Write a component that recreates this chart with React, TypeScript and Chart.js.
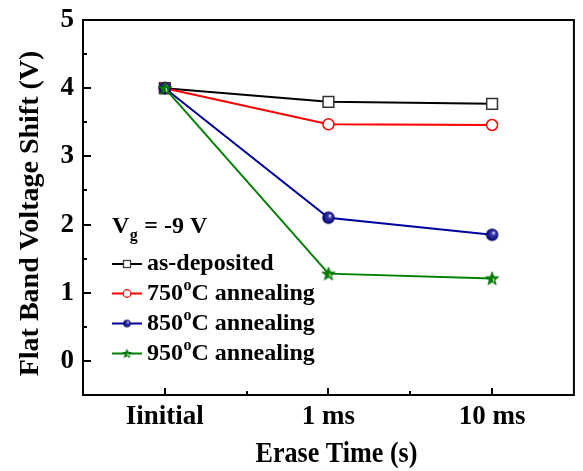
import React, { useEffect, useRef } from "react";
import { Chart, registerables } from "chart.js";

Chart.register(...registerables);

const categories = ["Iinitial", "1 ms", "10 ms"];
const asDeposited = [4.0, 3.8, 3.77];
const anneal750 = [4.0, 3.47, 3.46];
const anneal850 = [4.0, 2.1, 1.85];
const anneal950 = [4.0, 1.28, 1.21];
const yTickLabels = ["0", "1", "2", "3", "4", "5"];
const xTitle = "Erase Time (s)";
const yTitle = "Flat Band Voltage Shift (V)";

const FONT = "'Liberation Serif', 'Times New Roman', serif";

function makeSphere(r: number) {
  const c = document.createElement("canvas");
  const s = Math.ceil(r * 2 + 2);
  c.width = s;
  c.height = s;
  const ctx = c.getContext("2d")!;
  const cx = s / 2, cy = s / 2;
  const g = ctx.createRadialGradient(cx + r * 0.3, cy - r * 0.35, r * 0.05, cx, cy, r);
  g.addColorStop(0, "#e8e8ff");
  g.addColorStop(0.3, "#3a3aa8");
  g.addColorStop(1, "#00006e");
  ctx.fillStyle = g;
  ctx.beginPath();
  ctx.arc(cx, cy, r, 0, Math.PI * 2);
  ctx.fill();
  return c;
}

function makeStar(r: number) {
  const c = document.createElement("canvas");
  const s = Math.ceil(r * 2 + 2);
  c.width = s;
  c.height = s;
  const ctx = c.getContext("2d")!;
  const cx = s / 2, cy = s / 2 + r * 0.08;
  ctx.beginPath();
  for (let i = 0; i < 10; i++) {
    const rr = i % 2 === 0 ? r : r * 0.42;
    const a = -Math.PI / 2 + (i * Math.PI) / 5;
    const x = cx + rr * Math.cos(a);
    const y = cy + rr * Math.sin(a);
    if (i === 0) ctx.moveTo(x, y);
    else ctx.lineTo(x, y);
  }
  ctx.closePath();
  ctx.fillStyle = "#008000";
  ctx.fill();
  ctx.strokeStyle = "#006400";
  ctx.lineWidth = 0.8;
  ctx.stroke();
  ctx.strokeStyle = "#ffffff";
  ctx.lineWidth = 1;
  ctx.beginPath();
  ctx.moveTo(cx + r * 0.15, cy - r * 0.1);
  ctx.lineTo(cx + r * 0.3, cy + r * 0.45);
  ctx.stroke();
  return c;
}

export default function App() {
  const ref = useRef<HTMLCanvasElement | null>(null);

  useEffect(() => {
    if (!ref.current) return;
    const sphereBig = makeSphere(6.2);
    const sphereSmall = makeSphere(3.8);
    const starBig = makeStar(7);
    const starSmall = makeStar(4.5);

    const framePlugin = {
      id: "frame",
      afterDatasetsDraw(chart: any) {
        const { ctx, chartArea } = chart;
        const { left, right, top, bottom } = chartArea;
        const ys = chart.scales.y;
        const xs = chart.scales.x;
        ctx.save();
        ctx.strokeStyle = "#000";
        ctx.lineWidth = 2;
        ctx.strokeRect(left, top, right - left, bottom - top);
        for (let v = -0.5; v <= 5.001; v += 0.5) {
          const p = Math.round(ys.getPixelForValue(v));
          const major = Math.abs(v - Math.round(v)) < 1e-6;
          ctx.beginPath();
          ctx.moveTo(left, p);
          ctx.lineTo(left + (major ? 8 : 4), p);
          ctx.stroke();
        }
        for (let i = 0; i < categories.length; i++) {
          const p = Math.round(xs.getPixelForValue(i));
          ctx.beginPath();
          ctx.moveTo(p, bottom);
          ctx.lineTo(p, bottom - 7);
          ctx.stroke();
          if (i < categories.length - 1) {
            const m = Math.round((xs.getPixelForValue(i) + xs.getPixelForValue(i + 1)) / 2);
            ctx.beginPath();
            ctx.moveTo(m, bottom);
            ctx.lineTo(m, bottom - 4);
            ctx.stroke();
          }
        }
        ctx.restore();

        // Axis titles
        ctx.save();
        ctx.fillStyle = "#000";
        ctx.textAlign = "center";
        ctx.textBaseline = "alphabetic";
        ctx.font = `bold 29px ${FONT}`;
        ctx.translate(336.5, 462);
        ctx.scale(0.9, 1);
        ctx.fillText(xTitle, 0, 0);
        ctx.restore();

        ctx.save();
        ctx.fillStyle = "#000";
        ctx.textAlign = "center";
        ctx.textBaseline = "alphabetic";
        ctx.font = `bold 28px ${FONT}`;
        ctx.translate(38, 213.5);
        ctx.rotate(-Math.PI / 2);
        ctx.fillText(yTitle, 0, 0);
        ctx.restore();

        // Legend
        ctx.save();
        ctx.fillStyle = "#000";
        ctx.textBaseline = "alphabetic";
        ctx.textAlign = "left";
        const big = `bold 24px ${FONT}`;
        const small = `bold 16px ${FONT}`;
        let x = 112;
        ctx.font = big;
        ctx.fillText("V", x, 233);
        x += ctx.measureText("V").width;
        ctx.font = small;
        ctx.fillText("g", x + 0.5, 240);
        x += ctx.measureText("g").width + 1;
        ctx.font = big;
        ctx.fillText(" = -9 V", x, 233);

        const entries = [
          { pre: "as-deposited", sup: "", post: "", color: "#000", kind: "square" },
          { pre: "750", sup: "o", post: "C annealing", color: "#ff0000", kind: "circle" },
          { pre: "850", sup: "o", post: "C annealing", color: "#0000a0", kind: "sphere" },
          { pre: "950", sup: "o", post: "C annealing", color: "#008000", kind: "star" },
        ];
        const centers = [264, 293.5, 323.5, 353.5];
        entries.forEach((e, i) => {
          const cy = centers[i];
          ctx.strokeStyle = e.color;
          ctx.lineWidth = 2;
          ctx.beginPath();
          ctx.moveTo(112, cy);
          ctx.lineTo(142, cy);
          ctx.stroke();
          const mx = 127;
          if (e.kind === "square") {
            ctx.fillStyle = "#fff";
            ctx.fillRect(mx - 3.5, cy - 3.5, 7, 7);
            ctx.strokeStyle = "#333";
            ctx.lineWidth = 1.2;
            ctx.strokeRect(mx - 3.5, cy - 3.5, 7, 7);
          } else if (e.kind === "circle") {
            ctx.fillStyle = "#fff";
            ctx.beginPath();
            ctx.arc(mx, cy, 3.8, 0, Math.PI * 2);
            ctx.fill();
            ctx.strokeStyle = "#ff0000";
            ctx.lineWidth = 1.2;
            ctx.stroke();
          } else if (e.kind === "sphere") {
            ctx.drawImage(sphereSmall, mx - sphereSmall.width / 2, cy - sphereSmall.height / 2);
          } else {
            ctx.drawImage(starSmall, mx - starSmall.width / 2, cy - starSmall.height / 2);
          }
          ctx.fillStyle = "#000";
          let tx = 147;
          const base = cy + 6;
          ctx.font = big;
          ctx.fillText(e.pre, tx, base);
          tx += ctx.measureText(e.pre).width;
          if (e.sup) {
            ctx.font = small;
            ctx.fillText(e.sup, tx + 0.5, base - 10);
            tx += ctx.measureText(e.sup).width + 0.5;
            ctx.font = big;
            ctx.fillText(e.post, tx, base);
          }
        });
        ctx.restore();
      },
    };

    const chart = new Chart(ref.current, {
      type: "line",
      data: {
        labels: categories,
        datasets: [
          {
            label: "as-deposited",
            data: asDeposited,
            borderColor: "#000000",
            borderWidth: 2,
            pointStyle: "rect",
            pointRadius: 7.6,
            pointBackgroundColor: "#ffffff",
            pointBorderColor: "#333333",
            pointBorderWidth: 1.5,
            order: 4,
          },
          {
            label: "750°C annealing",
            data: anneal750,
            borderColor: "#ff0000",
            borderWidth: 2,
            pointStyle: "circle",
            pointRadius: 5.5,
            pointBackgroundColor: "#ffffff",
            pointBorderColor: "#ff0000",
            pointBorderWidth: 1.5,
            order: 3,
          },
          {
            label: "850°C annealing",
            data: anneal850,
            borderColor: "#0000a0",
            borderWidth: 2,
            pointStyle: sphereBig as any,
            pointRadius: 6,
            order: 2,
          },
          {
            label: "950°C annealing",
            data: anneal950,
            borderColor: "#008000",
            borderWidth: 2,
            pointStyle: starBig as any,
            pointRadius: 7,
            order: 1,
          },
        ],
      },
      options: {
        animation: false,
        responsive: false,
        maintainAspectRatio: false,
        layout: { padding: { left: 0, top: 20, right: 3, bottom: 0 } },
        plugins: {
          legend: { display: false },
          tooltip: { enabled: false },
        },
        scales: {
          x: {
            type: "category",
            offset: true,
            grid: { display: false, drawTicks: false },
            border: { display: false },
            ticks: {
              color: "#000",
              padding: 6,
              font: { family: FONT, size: 27, weight: "bold" },
              maxRotation: 0,
            },
            title: { display: false },
            afterFit: (s: any) => {
              s.height = 76;
              s.paddingLeft = 0;
              s.paddingRight = 0;
              s.paddingTop = 0;
              s.paddingBottom = 0;
            },
          },
          y: {
            type: "linear",
            min: -0.5,
            max: 5,
            grid: { display: false, drawTicks: false },
            border: { display: false },
            ticks: {
              stepSize: 0.5,
              autoSkip: false,
              color: "#000",
              padding: 9,
              font: { family: FONT, size: 27, weight: "bold" },
              callback: (v: any) => {
                const n = Number(v);
                if (Math.abs(n - Math.round(n)) < 1e-6 && n >= 0) {
                  return yTickLabels[Math.round(n)] ?? "";
                }
                return "";
              },
            },
            title: { display: false },
            afterFit: (s: any) => {
              s.width = 83;
              s.paddingLeft = 0;
              s.paddingRight = 0;
              s.paddingTop = 0;
              s.paddingBottom = 0;
            },
          },
        },
      },
      plugins: [framePlugin],
    });
    return () => chart.destroy();
  }, []);

  return (
    <div style={{ position: "fixed", left: 0, top: 0, width: 583, height: 471, background: "#fff" }}>
      <canvas ref={ref} width={583} height={471} style={{ display: "block" }} />
    </div>
  );
}
